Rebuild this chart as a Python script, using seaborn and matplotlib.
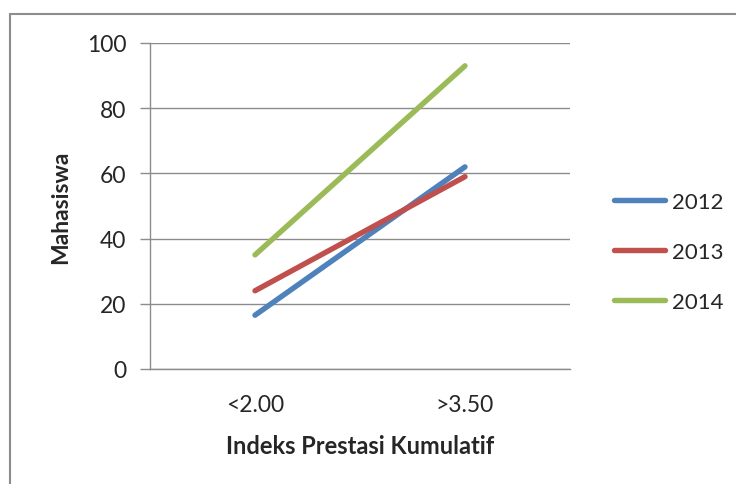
import seaborn as sns
import matplotlib.pyplot as plt
import pandas as pd
from matplotlib.lines import Line2D

categories = ["<2.00", ">3.50"]
years = ["2012", "2013", "2014"]
v2012 = [16.5, 62]
v2013 = [24, 59]
v2014 = [35, 93]
colors = ["#4F81BD", "#C0504D", "#9BBB59"]

rows = []
for yr, vals in zip(years, [v2012, v2013, v2014]):
    for i, v in enumerate(vals):
        rows.append([i, v, yr])
df = pd.DataFrame(rows, columns=["pos", "Mahasiswa", "Tahun"])

sns.set_style("white")
plt.rcParams['font.family'] = ['Lato', 'DejaVu Sans']

fig = plt.figure(figsize=(7.36, 4.85), dpi=100)
ax = fig.add_axes([150/736, 1-370/485, 420/736, 326/485])

g = sns.lineplot(data=df, x="pos", y="Mahasiswa", hue="Tahun", hue_order=years,
                 palette=colors, linewidth=3.9, ax=ax, legend=False,
                 solid_capstyle="round")

ax.set_xlim(-0.5, 1.5)
ax.set_ylim(0, 100)
ax.set_yticks(range(0, 101, 20))
ax.yaxis.grid(True, color="#8c8c8c", linewidth=1)
ax.set_axisbelow(True)
ax.set_xticks([0, 1])
ax.set_xticklabels(categories)
ax.set_xticks([-0.5, 0.5, 1.5], minor=True)
ax.tick_params(axis="x", which="major", length=0, pad=18, labelsize=16.5)
ax.tick_params(axis="x", which="minor", length=7, width=1, color="#8c8c8c", direction="out")
ax.tick_params(axis="y", length=7, width=1, color="#8c8c8c", direction="out", pad=10, labelsize=16.5, left=True)
for s in ["top", "right"]:
    ax.spines[s].set_visible(False)
for s in ["left", "bottom"]:
    ax.spines[s].set_color("#8c8c8c")
    ax.spines[s].set_linewidth(1)

ax.set_xlabel("Indeks Prestasi Kumulatif", fontsize=17, fontweight="bold", labelpad=14)
ax.set_ylabel("Mahasiswa", fontsize=16.5, fontweight="bold", labelpad=11)

handles = [Line2D([], [], color=c, linewidth=3.9, solid_capstyle="round") for c in colors]
fig.legend(handles, years, loc="center left", bbox_to_anchor=(605/736, 1-253/485),
           frameon=False, fontsize=16, handlelength=2.3, handletextpad=0.3,
           labelspacing=1.35, borderaxespad=0)

fig.add_artist(Line2D([10/736, 10/736], [0, 1-15/485], color="#8c8c8c", linewidth=1.5))
fig.add_artist(Line2D([10/736, 1], [1-15/485, 1-15/485], color="#8c8c8c", linewidth=1.5))

plt.savefig("out.png", dpi=100)
